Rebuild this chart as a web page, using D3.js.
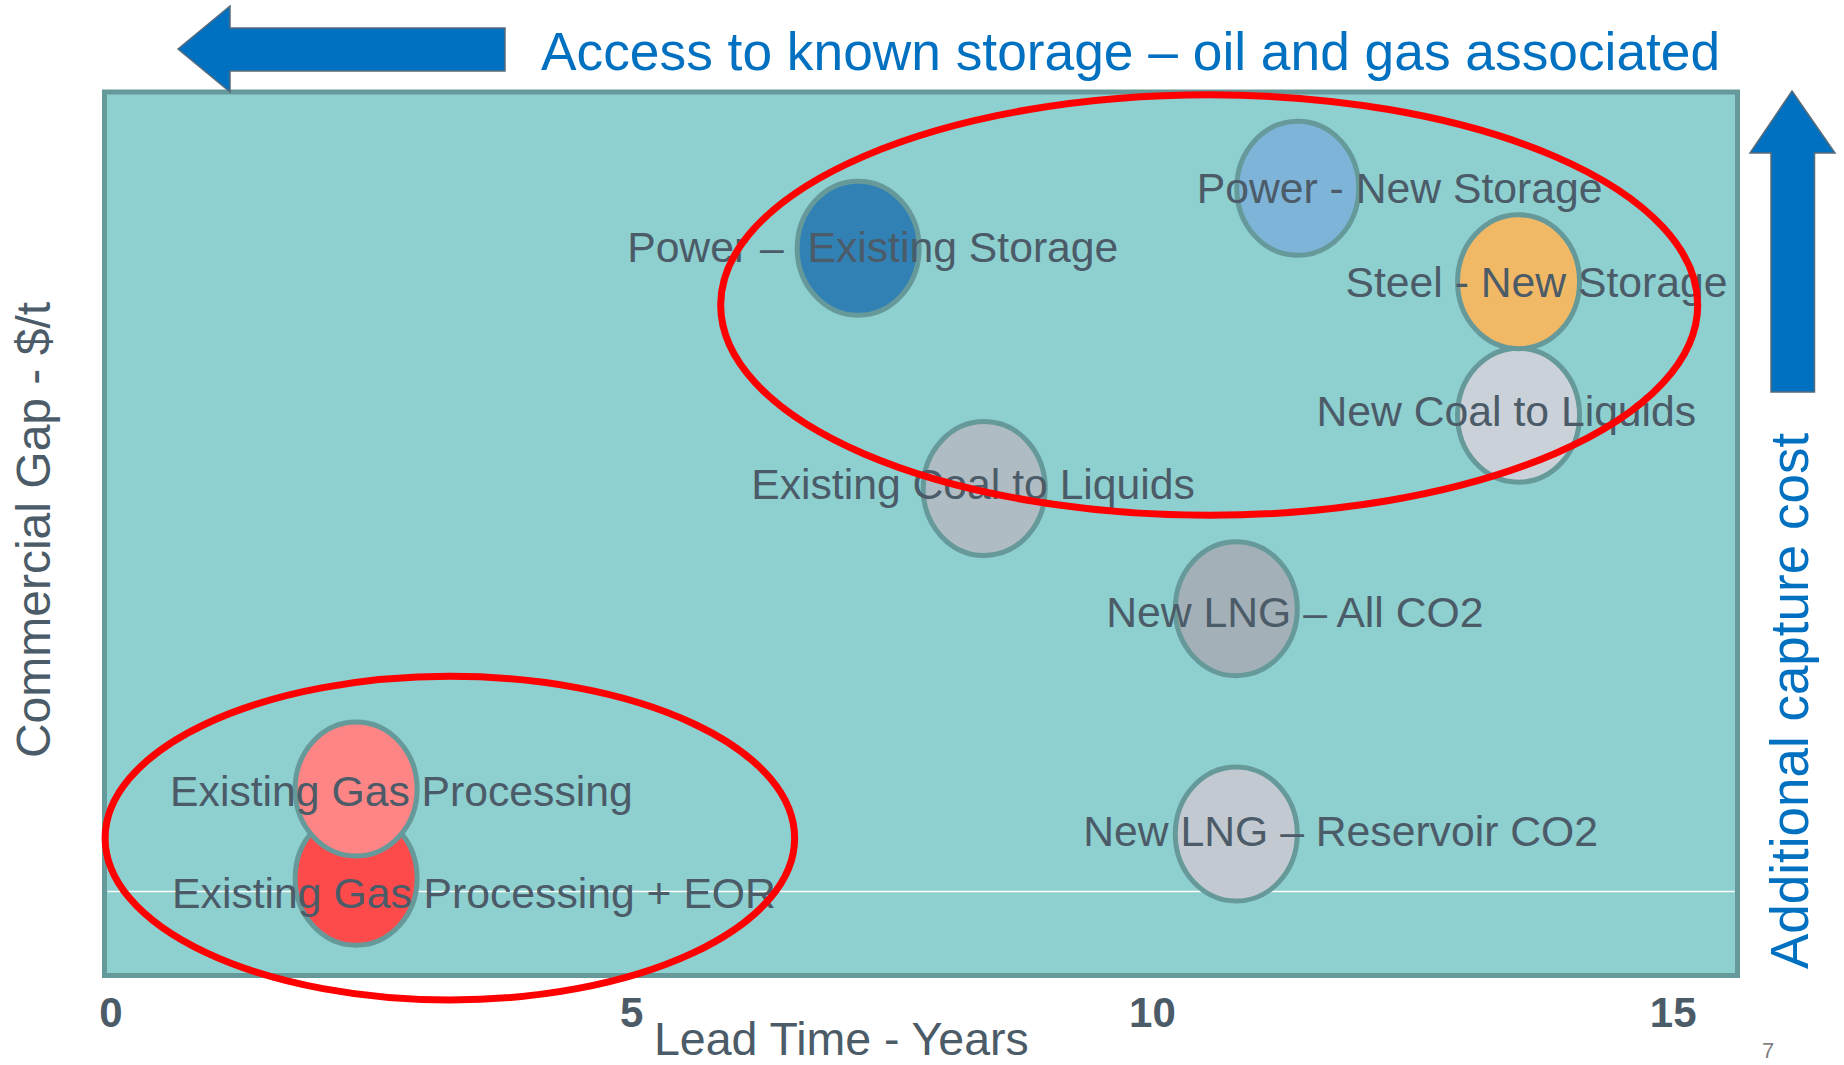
<!DOCTYPE html>
<html>
<head>
<meta charset="utf-8">
<script src="https://cdn.jsdelivr.net/npm/d3@7"></script>
<style>
    html, body { margin: 0; padding: 0; background: #ffffff; }
    #chart { width: 1844px; height: 1065px; }
    text { font-family: "Liberation Sans", Arial, sans-serif; }
</style>
</head>
<body>
<div id="chart"></div>
<script>

/*
DATA
*/
const projects = [
    "Existing Gas Processing + EOR",
    "Existing Gas Processing",
    "Power \u2013  Existing Storage",
    "Existing Coal to Liquids",
    "New LNG \u2013 All CO2",
    "New LNG \u2013 Reservoir CO2",
    "Power - New Storage",
    "New Coal to Liquids",
    "Steel - New Storage"
];
const leadTime = [2.36, 2.36, 7.18, 8.39, 10.81, 10.81, 11.40, 13.52, 13.52];
const commercialGap = [1.6, 12.3, 77.1, 48.3, 33.9, 6.9, 84.3, 57.1, 73.1];

const xTicks = [0, 5, 10, 15];

// red ring annotations, in chart units
const ringLead = [10.55, 3.26];
const ringGap = [70.3, 6.4];
const ringLeadRadius = [4.69, 3.31];
const ringGapRadius = [25.2, 19.4];

/*
STYLES + LABEL PLACEMENT
*/
const bubbleColors = ["#fd4b4b", "#fe8585", "#3181b5", "#b0bcc3", "#a3b0b7",
                      "#c2c9d0", "#7db4d8", "#cad1d8", "#f1b966"];
const labelDx = [-184, -186, -231, -233, -130, -153, -101, -202, -173];
const labelDy = [30, 17, 14, 10, 18, 12, 15, 11, 15];

const width = 1844;
const height = 1065;
const frame = {left: 104.5, top: 92, right: 1737.5, bottom: 975.5};
const textGray = "#4b5b68";
const blue = "#0070c0";

const svg = d3.select("#chart")
    .append("svg")
    .attr("width", width)
    .attr("height", height);

/*
SCALES
*/
const xScale = d3.scaleLinear()
    .domain([0, 15])
    .range([110.3, 1672.7]);

const yScale = d3.scaleLinear()
    .domain([-10, 96])
    .range([975, 90.6]);

/*
PLOT BACKGROUND + ZERO LINE
*/
svg.append("rect")
    .attr("x", frame.left)
    .attr("y", frame.top)
    .attr("width", frame.right - frame.left)
    .attr("height", frame.bottom - frame.top)
    .attr("fill", "#8ecfcf")
    .attr("stroke", "#669999")
    .attr("stroke-width", 5);

svg.append("line")
    .attr("x1", frame.left + 3)
    .attr("x2", frame.right - 3)
    .attr("y1", yScale(0))
    .attr("y2", yScale(0))
    .attr("stroke", "#ffffff")
    .attr("stroke-width", 1.5);

/*
BUBBLES
*/
const points = svg.selectAll("ellipse.bubble")
    .data(projects)
    .enter()
    .append("ellipse")
        .attr("class", "bubble")
        .attr("cx", function(d, i) { return xScale(leadTime[i]); })
        .attr("cy", function(d, i) { return yScale(commercialGap[i]); })
        .attr("rx", 61)
        .attr("ry", 67)
        .attr("fill", function(d, i) { return bubbleColors[i]; })
        .attr("stroke", "#669a9a")
        .attr("stroke-width", 5);

const labels = svg.selectAll("text.label")
    .data(projects)
    .enter()
    .append("text")
        .attr("class", "label")
        .attr("x", function(d, i) { return xScale(leadTime[i]) + labelDx[i]; })
        .attr("y", function(d, i) { return yScale(commercialGap[i]) + labelDy[i]; })
        .attr("font-size", 42.7)
        .attr("fill", textGray)
        .style("white-space", "pre")
        .text(function(d) { return d; });

/*
RED RINGS
*/
svg.selectAll("ellipse.ring")
    .data(ringLead)
    .enter()
    .append("ellipse")
        .attr("class", "ring")
        .attr("cx", function(d) { return xScale(d); })
        .attr("cy", function(d, i) { return yScale(ringGap[i]); })
        .attr("rx", function(d, i) { return xScale(d + ringLeadRadius[i]) - xScale(d); })
        .attr("ry", function(d, i) { return yScale(ringGap[i] - ringGapRadius[i]) - yScale(ringGap[i]); })
        .attr("fill", "none")
        .attr("stroke", "#ff0000")
        .attr("stroke-width", 7);

/*
X AXIS
*/
const xAxis = svg.append("g")
    .attr("class", "axis")
    .call(d3.axisBottom(xScale).tickValues(xTicks).tickSize(0).tickFormat(d3.format("d")));

xAxis.select(".domain").remove();
xAxis.selectAll("text")
    .attr("y", 1026.7)
    .attr("dy", 0)
    .attr("font-family", "Liberation Sans, Arial, sans-serif")
    .attr("font-size", 42)
    .attr("font-weight", "bold")
    .attr("fill", textGray);

/*
AXIS LABELS + TITLES
*/
svg.append("text")
    .attr("x", 654)
    .attr("y", 1054.5)
    .attr("font-size", 46.5)
    .attr("fill", textGray)
    .text("Lead Time - Years");

svg.append("text")
    .attr("transform", "rotate(-90)")
    .attr("x", -530)
    .attr("y", 50)
    .attr("text-anchor", "middle")
    .attr("font-size", 48)
    .attr("fill", textGray)
    .text("Commercial Gap - $/t");

svg.append("text")
    .attr("x", 541)
    .attr("y", 70)
    .attr("font-size", 53.3)
    .attr("fill", blue)
    .text("Access to known storage \u2013 oil and gas associated");

svg.append("text")
    .attr("transform", "rotate(-90)")
    .attr("x", -701)
    .attr("y", 1808)
    .attr("text-anchor", "middle")
    .attr("font-size", 53)
    .attr("fill", blue)
    .text("Additional capture cost");

svg.append("text")
    .attr("x", 1768)
    .attr("y", 1058)
    .attr("text-anchor", "middle")
    .attr("font-size", 22)
    .attr("fill", "#7f7f7f")
    .text("7");

/*
ARROWS
*/
svg.append("path")
    .attr("d", "M178,49 L230,6 L230,28 L505,28 L505,71 L230,71 L230,92 Z")
    .attr("fill", blue)
    .attr("stroke", "#5a6b78")
    .attr("stroke-width", 1.5);

svg.append("path")
    .attr("d", "M1792,91 L1835,153 L1814.5,153 L1814.5,392 L1771,392 L1771,153 L1750,153 Z")
    .attr("fill", blue)
    .attr("stroke", "#5a6b78")
    .attr("stroke-width", 1.5);

</script>
</body>
</html>
